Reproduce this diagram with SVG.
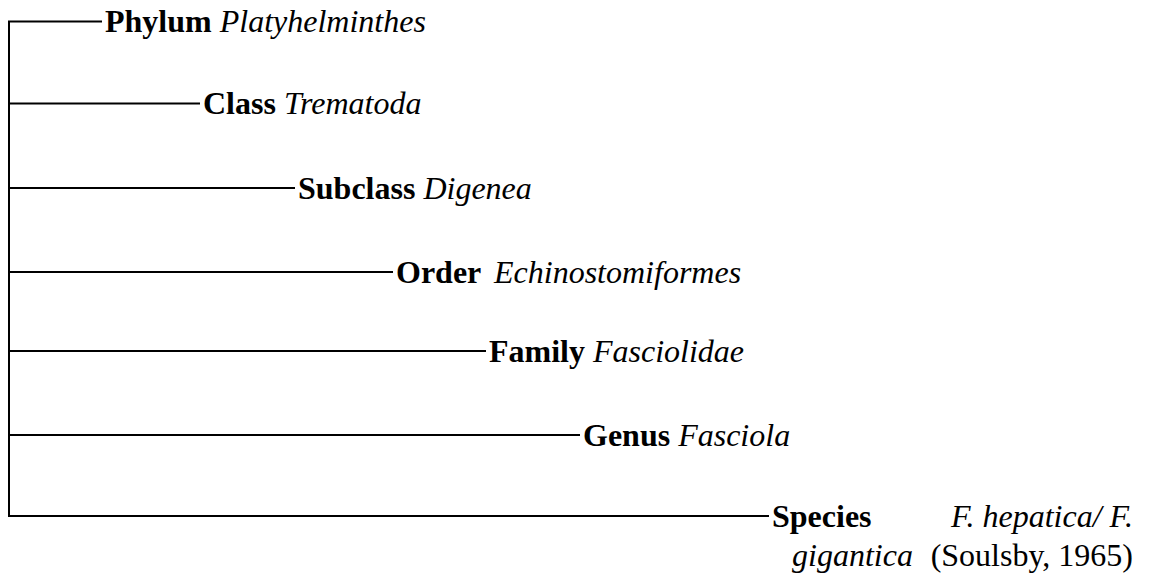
<svg xmlns="http://www.w3.org/2000/svg" width="1165" height="587" viewBox="0 0 1165 587">
<style>
.c{stroke:#000;stroke-width:2;fill:none}
text{font-family:"Liberation Serif","Times New Roman",serif;font-size:32px;fill:#000}
.b{font-weight:bold}
.i{font-style:italic}
</style>
<rect width="1165" height="587" fill="#fff"/>
<g id="connectors">
<line class="c" x1="9" y1="21.5" x2="9" y2="517"/>
<line class="c" x1="8" y1="21.5" x2="102" y2="21.5"/>
<line class="c" x1="8" y1="103.5" x2="200" y2="103.5"/>
<line class="c" x1="8" y1="188" x2="295" y2="188"/>
<line class="c" x1="8" y1="272" x2="393" y2="272"/>
<line class="c" x1="8" y1="351" x2="486" y2="351"/>
<line class="c" x1="8" y1="435" x2="580" y2="435"/>
<line class="c" x1="8" y1="516" x2="769" y2="516"/>
</g>
<g id="phylum"><text x="105" y="32"><tspan class="b">Phylum</tspan> <tspan class="i">Platyhelminthes</tspan></text></g>
<g id="class"><text x="203" y="114"><tspan class="b">Class</tspan> <tspan class="i">Trematoda</tspan></text></g>
<g id="subclass"><text x="298" y="198.5"><tspan class="b">Subclass</tspan> <tspan class="i">Digenea</tspan></text></g>
<g id="order"><text x="396" y="282.5"><tspan class="b">Order</tspan><tspan class="i" x="494">Echinostomiformes</tspan></text></g>
<g id="family"><text x="489" y="361.5"><tspan class="b">Family</tspan> <tspan class="i">Fasciolidae</tspan></text></g>
<g id="genus"><text x="583" y="445.5"><tspan class="b">Genus</tspan> <tspan class="i">Fasciola</tspan></text></g>
<g id="species">
<text class="b" x="772" y="526.5">Species</text>
<text class="i" x="1133" y="526.5" text-anchor="end">F. hepatica/ F.</text>
<text class="i" x="792" y="566">gigantica</text>
<text x="1133" y="566" text-anchor="end">(Soulsby, 1965)</text>
</g>
</svg>
